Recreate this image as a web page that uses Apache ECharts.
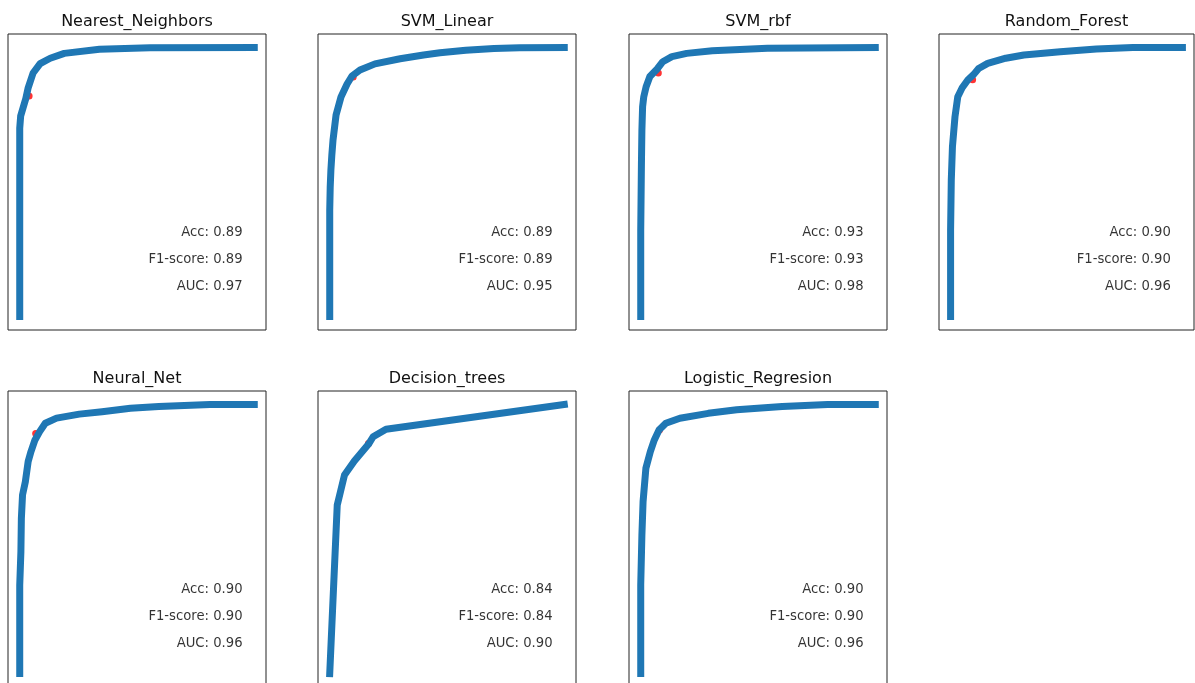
<!DOCTYPE html>
<html><head><meta charset="utf-8">
<script src="https://cdn.jsdelivr.net/npm/echarts@6/dist/echarts.min.js"></script>
<style>html,body{margin:0;padding:0;background:#fff}#c{width:1195px;height:683px}</style>
</head><body><div id="c"></div>
<script>
// ---- data ----
const models = ['Nearest_Neighbors','SVM_Linear','SVM_rbf','Random_Forest','Neural_Net','Decision_trees','Logistic_Regresion'];
const accScores = ['0.89','0.89','0.93','0.90','0.90','0.84','0.90'];
const f1Scores  = ['0.89','0.89','0.93','0.90','0.90','0.84','0.90'];
const aucScores = ['0.97','0.95','0.98','0.96','0.96','0.90','0.96'];

const knnFpr = [0, 0, 0.004, 0.014, 0.026, 0.036, 0.057, 0.087, 0.13, 0.19, 0.34, 0.556, 1.0];
const knnTpr = [0, 0.70, 0.745, 0.775, 0.81, 0.85, 0.905, 0.94, 0.96, 0.978, 0.993, 0.999, 1.0];

const svmLinFpr = [0, 0, 0.002, 0.005, 0.009, 0.014, 0.027, 0.048, 0.074, 0.095, 0.129, 0.193, 0.30, 0.40, 0.47, 0.58, 0.70, 0.81, 1.0];
const svmLinTpr = [0, 0.396, 0.48, 0.545, 0.60, 0.656, 0.749, 0.816, 0.864, 0.894, 0.916, 0.939, 0.958, 0.972, 0.98, 0.99, 0.996, 0.999, 1.0];

const svmRbfFpr = [0, 0, 0.003, 0.005, 0.008, 0.013, 0.023, 0.039, 0.07, 0.094, 0.133, 0.196, 0.305, 0.540, 1.0];
const svmRbfTpr = [0, 0.322, 0.569, 0.693, 0.780, 0.817, 0.854, 0.892, 0.92, 0.947, 0.966, 0.978, 0.988, 0.997, 1.0];

const rfFpr = [0, 0, 0.003, 0.008, 0.019, 0.031, 0.05, 0.075, 0.1, 0.121, 0.16, 0.238, 0.316, 0.473, 0.629, 0.786, 1.0];
const rfTpr = [0, 0.322, 0.507, 0.631, 0.743, 0.817, 0.85, 0.88, 0.9, 0.922, 0.941, 0.960, 0.972, 0.984, 0.994, 1.0, 1.0];

const mlpFpr = [0, 0, 0.005, 0.007, 0.012, 0.024, 0.036, 0.048, 0.065, 0.085, 0.109, 0.157, 0.254, 0.351, 0.472, 0.593, 0.811, 1.0];
const mlpTpr = [0, 0.329, 0.453, 0.577, 0.664, 0.713, 0.788, 0.825, 0.868, 0.899, 0.930, 0.949, 0.964, 0.973, 0.986, 0.992, 1.0, 1.0];

const dtFpr = [0, 0.032, 0.063, 0.105, 0.165, 0.185, 0.24, 1.0];
const dtTpr = [0, 0.626, 0.738, 0.79, 0.852, 0.88, 0.908, 1.0];

const lrFpr = [0, 0, 0.005, 0.010, 0.022, 0.041, 0.058, 0.078, 0.107, 0.167, 0.288, 0.409, 0.603, 0.797, 1.0];
const lrTpr = [0, 0.329, 0.515, 0.639, 0.763, 0.825, 0.868, 0.905, 0.930, 0.949, 0.967, 0.980, 0.992, 1.0, 1.0];

const thresholdFpr = [0.04, 0.1, 0.075, 0.095, 0.068, 0.165, 0.08];
const thresholdTpr = [0.82, 0.89, 0.905, 0.88, 0.892, 0.855, 0.905];

const textX = 0.95;
const textY = [0.3, 0.2, 0.1];

// ---- chart ----
const curves = [[knnFpr,knnTpr],[svmLinFpr,svmLinTpr],[svmRbfFpr,svmRbfTpr],[rfFpr,rfTpr],[mlpFpr,mlpTpr],[dtFpr,dtTpr],[lrFpr,lrTpr]];
const colLeft = [8, 318, 629, 939];
const colWidth = [258, 258, 258, 255];
const rowTop = [34, 391];
const H = 296;
const FONT = 'DejaVu Sans';

const grid = [], xAxis = [], yAxis = [], series = [], title = [];
models.forEach((m, i) => {
  const c = i % 4, r = Math.floor(i / 4);
  grid.push({left: colLeft[c], top: rowTop[r], width: colWidth[c], height: H, show: true,
    outerBoundsMode: 'none', containLabel: false,
    borderColor: '#222', borderWidth: 1, backgroundColor: '#fff'});
  xAxis.push({gridIndex: i, type: 'value', min: -0.05, max: 1.05, show: false});
  yAxis.push({gridIndex: i, type: 'value', min: -0.05, max: 1.05, show: false});
  title.push({text: m, left: colLeft[c] + colWidth[c] / 2, top: rowTop[r] - 20, textAlign: 'center', padding: 0,
    textStyle: {fontFamily: FONT, fontSize: 16, fontWeight: 'normal', color: '#111'}});
  series.push({type: 'scatter', xAxisIndex: i, yAxisIndex: i, z: 1, symbolSize: 7,
    itemStyle: {color: '#ff0000'}, silent: true,
    data: [[thresholdFpr[i], thresholdTpr[i]]]});
  const [fx, ty] = curves[i];
  series.push({type: 'line', xAxisIndex: i, yAxisIndex: i, z: 2, showSymbol: false, symbol: 'none',
    silent: true, animation: false,
    lineStyle: {color: '#1f77b4', width: 7, cap: 'square', join: 'round'},
    data: fx.map((v, k) => [v, ty[k]])});
  const labels = ['Acc: ' + accScores[i], 'F1-score: ' + f1Scores[i], 'AUC: ' + aucScores[i]];
  series.push({type: 'scatter', xAxisIndex: i, yAxisIndex: i, z: 3, symbolSize: 0, silent: true,
    label: {show: true, position: 'left', distance: 0, offset: [0, -3.5], formatter: '{b}',
      fontFamily: FONT, fontSize: 13.2, color: '#000'},
    data: labels.map((t, k) => ({name: t, value: [textX, textY[k]]}))});
});

const chart = echarts.init(document.getElementById('c'), null, {renderer: 'canvas'});
chart.setOption({backgroundColor: '#fff', animation: false, title, grid, xAxis, yAxis, series});
</script></body></html>
